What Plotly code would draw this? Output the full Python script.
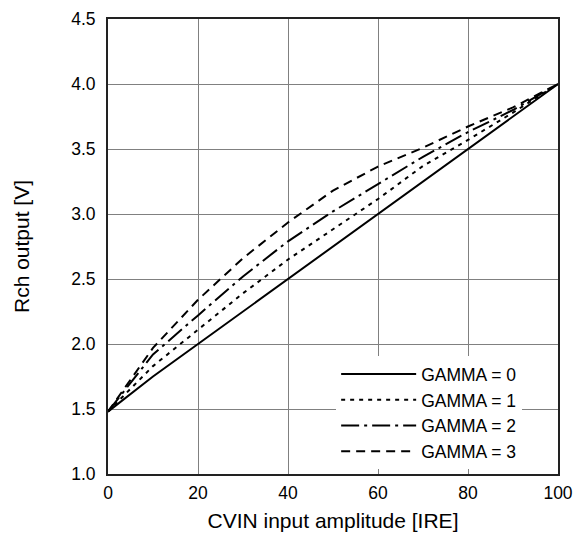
import plotly.graph_objects as go

# input amplitude [IRE]
ire = [0, 10, 20, 30, 40, 50, 60, 70, 80, 90, 100]

# Rch output [V] per gamma setting
gamma0 = [1.48, 1.75, 2.0, 2.25, 2.5, 2.75, 3.0, 3.25, 3.5, 3.75, 4.0]
gamma1 = [1.48, 1.83, 2.11, 2.39, 2.65, 2.88, 3.115, 3.37, 3.57, 3.78, 4.0]
gamma2 = [1.48, 1.92, 2.22, 2.52, 2.79, 3.02, 3.23, 3.44, 3.63, 3.80, 4.0]
gamma3 = [1.48, 1.97, 2.34, 2.66, 2.935, 3.18, 3.365, 3.51, 3.673, 3.82, 4.0]

names = ['GAMMA = 0', 'GAMMA = 1', 'GAMMA = 2', 'GAMMA = 3']
dashes = ['solid', '4px,5px', '18px,5px,3px,5px', '9px,6px']

font = dict(family='Liberation Sans, Arial, sans-serif', size=17.5, color='black')

fig = go.Figure()
for name, ys, dash in zip(names, [gamma0, gamma1, gamma2, gamma3], dashes):
    fig.add_trace(go.Scatter(x=ire, y=ys, mode='lines', name=name,
                             line=dict(color='black', width=2, dash=dash)))

fig.update_layout(width=582, height=541, autosize=False,
                  paper_bgcolor='white', plot_bgcolor='white', font=font,
                  margin=dict(l=100, r=32, t=11, b=75))
fig.update_layout(legend=dict(x=0.507, y=0.135, xanchor='left', yanchor='middle',
                              bgcolor='white', borderwidth=0, itemwidth=75,
                              font=font, tracegroupgap=0))
fig.update_xaxes(range=[0, 100], dtick=20, showgrid=True, gridcolor='#808080', gridwidth=1,
                 showline=True, linecolor='#222', linewidth=2, mirror=True,
                 ticks='', ticklabelstandoff=2, zeroline=False, automargin=False,
                 ticklabeloverflow='allow',
                 title=dict(text='CVIN input amplitude [IRE]', standoff=11))
fig.update_yaxes(range=[1.0, 4.5], dtick=0.5, tickformat='.1f', showgrid=True,
                 gridcolor='#808080', gridwidth=1,
                 showline=True, linecolor='#222', linewidth=2, mirror=True,
                 ticks='', ticklabelstandoff=7, zeroline=False, automargin=False,
                 ticklabeloverflow='allow',
                 title=dict(text='Rch output [V]', standoff=36))

fig.write_html("out.html")
